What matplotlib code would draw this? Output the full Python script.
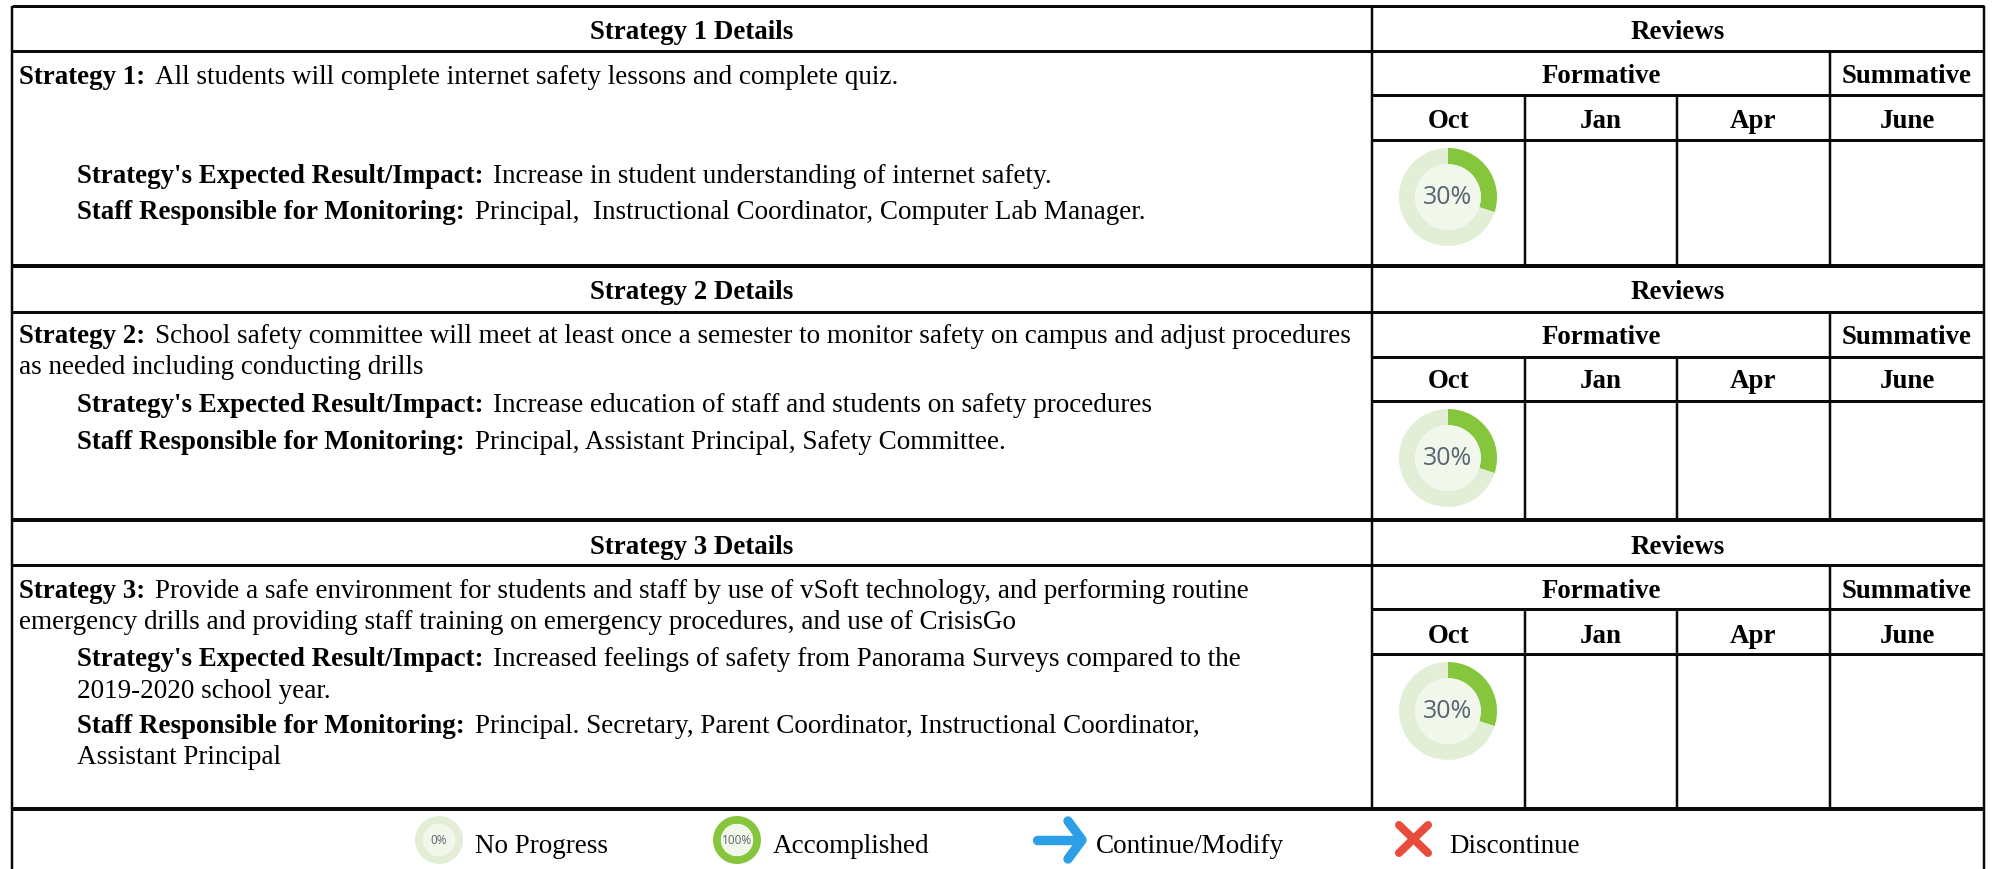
import matplotlib
matplotlib.use('Agg')
import matplotlib.pyplot as plt

W, H = 1993, 869
FS = 19.4
FS_PLAIN = 19.55
SERIF = 'Liberation Serif'

# table content
headers = ['Strategy 1 Details', 'Strategy 2 Details', 'Strategy 3 Details']
months = ['Oct', 'Jan', 'Apr', 'June']
progress = [30, 30, 30]
legend_labels = ['No Progress', 'Accomplished', 'Continue/Modify', 'Discontinue']
legend_progress = [0, 100]

# each row: (indent, baseline, bold part, plain part)
rows = [
    (19, 84, 'Strategy 1:', 'All students will complete internet safety lessons and complete quiz.'),
    (77, 183, "Strategy's Expected Result/Impact:", 'Increase in student understanding of internet safety.'),
    (77, 219, 'Staff Responsible for Monitoring:', 'Principal,  Instructional Coordinator, Computer Lab Manager.'),
    (19, 343, 'Strategy 2:', 'School safety committee will meet at least once a semester to monitor safety on campus and adjust procedures'),
    (19, 374, '', 'as needed including conducting drills'),
    (77, 412, "Strategy's Expected Result/Impact:", 'Increase education of staff and students on safety procedures'),
    (77, 449, 'Staff Responsible for Monitoring:', 'Principal, Assistant Principal, Safety Committee.'),
    (19, 598, 'Strategy 3:', 'Provide a safe environment for students and staff by use of vSoft technology, and performing routine'),
    (19, 629, '', 'emergency drills and providing staff training on emergency procedures, and use of CrisisGo'),
    (77, 666, "Strategy's Expected Result/Impact:", 'Increased feelings of safety from Panorama Surveys compared to the'),
    (77, 698, '', '2019-2020 school year.'),
    (77, 733, 'Staff Responsible for Monitoring:', 'Principal. Secretary, Parent Coordinator, Instructional Coordinator,'),
    (77, 764, '', 'Assistant Principal'),
]

# grid, in pixels of the page
x_left, x_mid, x_right = 12, 1372, 1984
x_months = [1372, 1525, 1677, 1830, 1984]
blocks = [(6, 51, 95, 140, 266), (266, 312, 357, 401, 520), (520, 565, 609, 654, 809)]
head_offset = [12, 13, 11]
y_bottom = 868


def hline(ax, y, x0, x1, lw=2.5):
    ax.plot([x0, x1], [y, y], color='#0a0a0a', lw=lw * 0.72, solid_capstyle='butt')


def vline(ax, x, y0, y1, lw=2.5):
    ax.plot([x, x], [y0, y1], color='#0a0a0a', lw=lw * 0.72, solid_capstyle='butt')


def donut(ax, cx, cy, r, value, label, fs):
    ax.pie([value, 100 - value], colors=['#85c63c', '#e2efd6'], startangle=-90, counterclock=True,
           center=(cx, cy), radius=r, frame=True, wedgeprops=dict(width=r * 0.33, linewidth=0))
    ax.add_patch(plt.Circle((cx, cy), r * 0.67, color='#f1f7ea', lw=0))
    ax.text(cx, cy + r * 0.02, label, ha='center', va='center', fontsize=fs, color='#5a6470', family='Open Sans')


def bold_text(ax, x, y, s):
    ax.text(x, y, s, ha='center', va='baseline', fontsize=FS, weight='bold', family=SERIF)


fig = plt.figure(figsize=(W / 100, H / 100), dpi=100)
ax = fig.add_axes([0, 0, 1, 1])

for b, (top, y1, y2, y3, end) in enumerate(blocks):
    off = head_offset[b]
    hline(ax, top, x_left, x_right, 3 if b == 0 else 4)
    hline(ax, y1, x_left, x_right, 3)
    hline(ax, y2, x_mid, x_right, 3)
    hline(ax, y3, x_mid, x_right, 3)
    vline(ax, x_mid, top, end)
    vline(ax, x_months[3], y1, end)
    vline(ax, x_months[1], y2, end)
    vline(ax, x_months[2], y2, end)
    bold_text(ax, (x_left + x_mid) / 2, y1 - off, headers[b])
    bold_text(ax, (x_mid + x_right) / 2, y1 - off, 'Reviews')
    bold_text(ax, (x_months[0] + x_months[3]) / 2, y2 - off, 'Formative')
    bold_text(ax, (x_months[3] + x_months[4]) / 2, y2 - off, 'Summative')
    for i, m in enumerate(months):
        bold_text(ax, (x_months[i] + x_months[i + 1]) / 2, y3 - off, m)
    donut(ax, 1448, y3 + 57, 49, progress[b], '%d%%' % progress[b], 18)

hline(ax, blocks[-1][-1], x_left, x_right, 4)
vline(ax, x_left, 6, y_bottom + 1)
vline(ax, x_right, 6, y_bottom + 1)

ax.set_xlim(0, W)
ax.set_ylim(H, 0)
ax.axis('off')

# bold lead-in followed by plain text on the same baseline
rend = fig.canvas.get_renderer()
inv = ax.transData.inverted()
for x, y, bold, plain in rows:
    if bold:
        t = ax.text(x, y, bold, fontsize=FS, weight='bold', family=SERIF, va='baseline')
        x = inv.transform(t.get_window_extent(rend))[1][0] + 10
    ax.text(x, y, plain, fontsize=FS_PLAIN, family=SERIF, va='baseline')

# legend
y_leg = 840
donut(ax, 439, y_leg, 24, legend_progress[0], '0%', 8.5)
donut(ax, 737, y_leg, 24, legend_progress[1], '100%', 8.5)
blue = '#2b9fe8'
ax.plot([1037, 1078], [y_leg, y_leg], color=blue, lw=6.8, solid_capstyle='round')
ax.plot([1068, 1082, 1068], [y_leg - 19, y_leg, y_leg + 19], color=blue, lw=6.8, solid_capstyle='round', solid_joinstyle='round')
red = '#e84c3d'
ax.plot([1399, 1428], [y_leg - 15, y_leg + 13], color=red, lw=5.8, solid_capstyle='round')
ax.plot([1428, 1399], [y_leg - 15, y_leg + 13], color=red, lw=5.8, solid_capstyle='round')
for x, lab in zip([475, 773, 1096, 1449], legend_labels):
    ax.text(x, 853, lab, fontsize=FS_PLAIN, family=SERIF, va='baseline')

ax.set_xlim(0, W)
ax.set_ylim(H, 0)
fig.savefig('out.png', dpi=100, facecolor='white')
